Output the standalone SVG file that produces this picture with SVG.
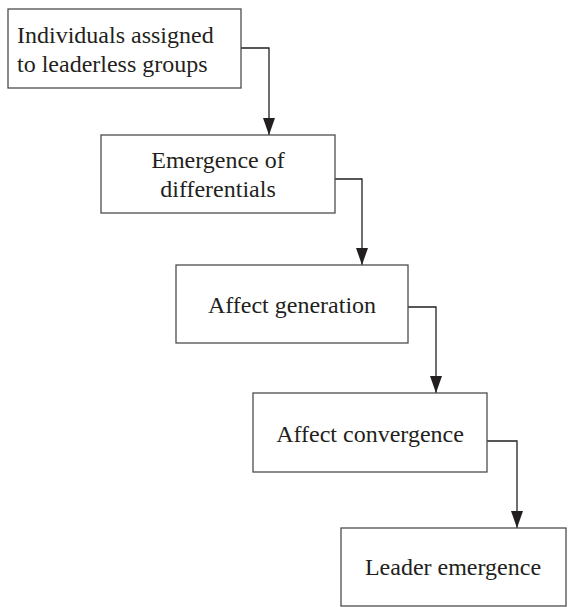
<svg xmlns="http://www.w3.org/2000/svg" width="568" height="607" viewBox="0 0 568 607">
<style>
.box{fill:#fff;stroke:#4d4d4d;stroke-width:1.3}
.lbl{font-family:"Liberation Serif",serif;font-size:24px;fill:#231f20}
.c{text-anchor:middle}
.conn{fill:none;stroke:#231f20;stroke-width:1.3}
</style>
<defs>
<marker id="arr" markerUnits="userSpaceOnUse" markerWidth="17" markerHeight="12" refX="17" refY="6" orient="auto" viewBox="0 0 17 12">
<path d="M0,0 L17,6 L0,12 Z" fill="#231f20"/>
</marker>
</defs>
<rect width="568" height="607" fill="#fff"/>
<g id="connectors">
<path class="conn" d="M241,48 H269 V135" marker-end="url(#arr)"/>
<path class="conn" d="M335,179 H362 V265" marker-end="url(#arr)"/>
<path class="conn" d="M408,307 H436 V393" marker-end="url(#arr)"/>
<path class="conn" d="M487,441 H517 V528" marker-end="url(#arr)"/>
</g>
<g id="n1">
<rect class="box" x="8" y="9" width="233" height="79"/>
<text class="lbl" x="17" y="43">Individuals assigned</text>
<text class="lbl" x="17" y="72">to leaderless groups</text>
</g>
<g id="n2">
<rect class="box" x="101" y="135" width="234" height="78"/>
<text class="lbl c" x="218" y="168">Emergence of</text>
<text class="lbl c" x="218" y="197">differentials</text>
</g>
<g id="n3">
<rect class="box" x="176" y="265" width="232" height="78"/>
<text class="lbl c" x="292" y="313">Affect generation</text>
</g>
<g id="n4">
<rect class="box" x="253" y="393" width="234" height="79"/>
<text class="lbl c" x="370" y="442">Affect convergence</text>
</g>
<g id="n5">
<rect class="box" x="341" y="528" width="225" height="78"/>
<text class="lbl c" x="453" y="575">Leader emergence</text>
</g>
</svg>
